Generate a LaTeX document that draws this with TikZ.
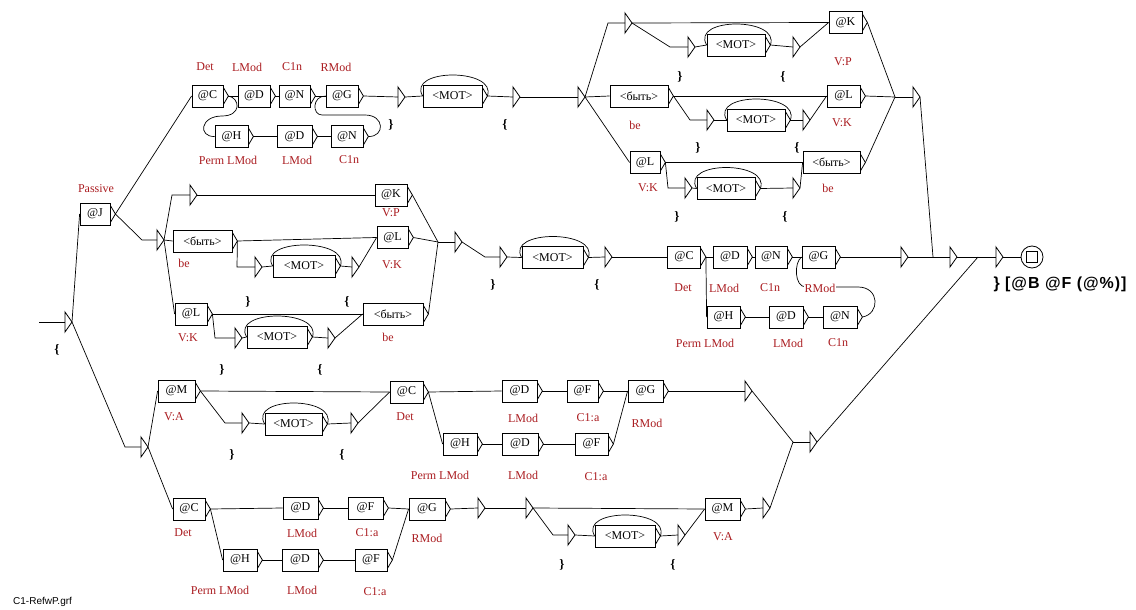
\documentclass[tikz,border=0pt]{standalone}
\usepackage{fontspec}
\setmainfont{Liberation Serif}
\newfontfamily\sansf{Liberation Sans}
\usetikzlibrary{calc}
\definecolor{lbl}{RGB}{170,28,32}
\tikzset{
  ubox/.style={draw, line width=0.8pt, minimum height=22pt, inner sep=1pt, font=\fontsize{12}{13}\selectfont},
  boxl/.style={line width=0.8pt},
  conn/.style={line width=0.7pt},
  lab/.style={text=lbl, font=\fontsize{12}{13}\selectfont, inner sep=0pt},
  brc/.style={font=\bfseries\fontsize{13}{14}\selectfont, inner sep=0pt},
}
\newcommand\UB[4]{\node[ubox,minimum width=#3] (#1) at (#2) {#4};
  \draw[boxl] ($(#1.north east)+(0,3)$) -- ($(#1.east)+(5,0)$) coordinate (#1o) -- ($(#1.south east)+(0,-3)$);}
\newcommand\TR[2]{\coordinate (#1) at (#2);
  \draw[boxl] ($(#1)+(0,-10)$) -- ($(#1)+(7,0)$) coordinate (#1r) -- ($(#1)+(0,10)$) -- cycle;}
\newcommand\LOOP[1]{\draw[conn] (#1o) .. controls ($(#1o)+(10,-28)$) and ($(#1.west)+(-16,-28)$) .. (#1.west);}
\begin{document}
\begin{tikzpicture}[x=1pt,y=-1pt]
\useasboundingbox (0,0) rectangle (1136,610);
% ---------- start
\coordinate (st) at (39,322);
\TR{S}{65,322}
\draw[conn] (st) -- (S);
\UB{J}{95,214}{30}{@J}
\draw[conn] (Sr) -- (J.west);
% ---------- top row
\UB{C1}{207.5,96}{31}{@C}
\UB{D1}{254,96}{32}{@D}
\UB{N1}{294.5,96}{31}{@N}
\UB{G1}{342,96}{32}{@G}
\UB{H1}{231.5,136.5}{33}{@H}
\UB{D2}{294.5,136.5}{35}{@D}
\UB{N2}{347,136.5}{32}{@N}
\draw[conn] (Jo) -- (C1.west);
\draw[conn] (C1o) -- (D1.west);
\draw[conn] (D1o) -- (N1.west);
\draw[conn] (N1o) -- (G1.west);
\draw[conn] (C1o) .. controls (240,98) and (242,116) .. (222,116) .. controls (200,116) and (198,137) .. (H1.west);
\draw[conn] (H1o) -- (D2.west);
\draw[conn] (D2o) -- (N2.west);
\draw[conn] (N2o) .. controls (385,137) and (385,115) .. (365,115) -- (322,115) .. controls (312,115) and (312,96) .. (G1.west);
\TR{ta}{398,97}
\UB{MOT1}{452.5,96}{59}{<MOT>}
\TR{tb}{513,97}
\TR{tc}{578,97}
\draw[conn] (G1o) -- (ta);
\draw[conn] (tar) -- (MOT1.west);
\LOOP{MOT1}
\draw[conn] (MOT1o) -- (tb);
\draw[conn] (tbr) -- (tc);
% ---------- upper right
\TR{td}{625,23}
\UB{K1}{845.5,22.5}{33}{@K}
\TR{te}{688,47}
\UB{MOT2}{736,45}{58}{<MOT>}
\TR{tf}{793,47}
\draw[conn] (tcr) -- (608,23) -- (td);
\draw[conn] (tdr) -- (K1.west);
\draw[conn] (tdr) -- (670,47) -- (te);
\draw[conn] (ter) -- (MOT2.west);
\LOOP{MOT2}
\draw[conn] (MOT2o) -- (tf);
\draw[conn] (tfr) -- (K1.west);
\UB{be1}{639,96}{58}{<быть>}
\UB{L1}{843.5,96}{33}{@L}
\TR{tg}{707,120}
\UB{MOT3}{756,120}{58}{<MOT>}
\TR{th}{803,120}
\draw[conn] (tcr) -- (be1.west);
\draw[conn] (be1o) -- (L1.west);
\draw[conn] (be1o) -- (690,120) -- (tg);
\draw[conn] (tgr) -- (MOT3.west);
\LOOP{MOT3}
\draw[conn] (MOT3o) -- (th);
\draw[conn] (thr) -- (L1.west);
\UB{L2}{645,162.5}{30}{@L}
\UB{be2}{831.5,162.5}{57}{<быть>}
\TR{ti}{685,188}
\UB{MOT4}{726,188.5}{58}{<MOT>}
\TR{tj}{793,188}
\draw[conn] (tcr) -- (L2.west);
\draw[conn] (L2o) -- (be2.west);
\draw[conn] (L2o) -- (668,188) -- (ti);
\draw[conn] (tir) -- (MOT4.west);
\LOOP{MOT4}
\draw[conn] (MOT4o) -- (tj);
\draw[conn] (tjr) -- (be2.west);
\coordinate (J1) at (895,97);
\coordinate (J2) at (933,257);
\TR{tk}{913,97}
\draw[conn] (K1o) -- (J1);
\draw[conn] (L1o) -- (J1);
\draw[conn] (be2o) -- (J1);
\draw[conn] (J1) -- (tk);
\draw[conn] (tkr) -- (J2);
% ---------- middle (passive)
\TR{t1}{157,240}
\TR{t2}{190,195}
\draw[conn] (Jo) -- (142,240) -- (t1);
\draw[conn] (t1r) -- (172,195) -- (t2);
\UB{K2}{391,195}{32}{@K}
\draw[conn] (t2r) -- (K2.west);
\UB{be3}{202.5,241}{59}{<быть>}
\UB{L3}{392.5,237.5}{31}{@L}
\draw[conn] (t1r) -- (be3.west);
\draw[conn] (be3o) -- (L3.west);
\TR{t3}{255,267}
\UB{MOT5}{304,266}{62}{<MOT>}
\TR{t4}{352,267}
\draw[conn] (be3o) -- (237,267) -- (t3);
\draw[conn] (t3r) -- (MOT5.west);
\LOOP{MOT5}
\draw[conn] (MOT5o) -- (t4);
\draw[conn] (t4r) -- (L3.west);
\UB{L4}{191,314}{32}{@L}
\UB{be4}{393,314}{60}{<быть>}
\draw[conn] (t1r) -- (L4.west);
\draw[conn] (L4o) -- (be4.west);
\TR{t5}{235,338}
\UB{MOT6}{277,337}{60}{<MOT>}
\TR{t6}{328,338}
\draw[conn] (L4o) -- (215,338) -- (t5);
\draw[conn] (t5r) -- (MOT6.west);
\LOOP{MOT6}
\draw[conn] (MOT6o) -- (t6);
\draw[conn] (t6r) -- (be4.west);
\coordinate (J3) at (438,242);
\draw[conn] (K2o) -- (J3);
\draw[conn] (L3o) -- (J3);
\draw[conn] (be4o) -- (J3);
\TR{t7}{455,242}
\TR{t8}{500,257}
\UB{MOT7}{552.5,257.5}{61}{<MOT>}
\TR{t9}{605,257}
\draw[conn] (J3) -- (t7);
\draw[conn] (t7r) -- (485,257) -- (t8);
\draw[conn] (t8r) -- (MOT7.west);
\LOOP{MOT7}
\draw[conn] (MOT7o) -- (t9);
\UB{C2}{684,257}{33}{@C}
\UB{D3}{730,257}{34}{@D}
\UB{N3}{771,257}{32}{@N}
\UB{G2}{818.5,257}{33}{@G}
\UB{H2}{723.5,317}{33}{@H}
\UB{D4}{786,317}{34}{@D}
\UB{N4}{840,317}{34}{@N}
\draw[conn] (t9r) -- (C2.west);
\draw[conn] (C2o) -- (D3.west);
\draw[conn] (D3o) -- (N3.west);
\draw[conn] (N3o) -- (G2.west);
\draw[conn] (C2o) -- (H2.west);
\draw[conn] (H2o) -- (D4.west);
\draw[conn] (D4o) -- (N4.west);
\draw[conn] (N4o) .. controls (880,314) and (880,287) .. (858,287) -- (806,287) .. controls (794,287) and (794,262) .. (G2.west);
\TR{t10}{901,257}
\TR{t11}{950,257}
\TR{t12}{996,257}
\coordinate (J4) at (978,257);
\draw[conn] (G2o) -- (t10);
\draw[conn] (t10r) -- (J2);
\draw[conn] (J2) -- (t11);
\draw[conn] (t11r) -- (J4);
\draw[conn] (J4) -- (t12);
\node[circle, draw, line width=0.8pt, minimum size=22pt, inner sep=0pt] (F) at (1032,257) {};
\node[draw, line width=0.8pt, minimum size=11pt, inner sep=0pt] (Fq) at (F) {};
\draw[conn] (t12r) -- (F.west);
% ---------- bottom
\TR{t13}{141,447}
\draw[conn] (Sr) -- (125,447) -- (t13);
\UB{M1}{176.5,391}{37}{@M}
\UB{C3}{189,509}{32}{@C}
\draw[conn] (t13r) -- (M1.west);
\draw[conn] (t13r) -- (C3.west);
\UB{C4}{406.5,392}{33}{@C}
\draw[conn] (M1o) -- (C4.west);
\TR{t14}{242,423}
\UB{MOT8}{293.5,424}{57}{<MOT>}
\TR{t15}{351,423}
\draw[conn] (M1o) -- (225,423) -- (t14);
\draw[conn] (t14r) -- (MOT8.west);
\LOOP{MOT8}
\draw[conn] (MOT8o) -- (t15);
\draw[conn] (t15r) -- (C4.west);
\UB{D5}{519.5,391}{35}{@D}
\UB{F1}{582.5,391}{31}{@F}
\UB{G3}{645.5,391}{35}{@G}
\UB{H3}{460,444}{34}{@H}
\UB{D6}{520,444}{36}{@D}
\UB{F2}{591.5,444}{33}{@F}
\draw[conn] (C4o) -- (D5.west);
\draw[conn] (D5o) -- (F1.west);
\draw[conn] (F1o) -- (G3.west);
\draw[conn] (C4o) -- (H3.west);
\draw[conn] (H3o) -- (D6.west);
\draw[conn] (D6o) -- (F2.west);
\draw[conn] (F2o) -- (G3.west);
\coordinate (J5) at (793,442);
\TR{t16}{745,391}
\TR{t17}{810,442}
\draw[conn] (G3o) -- (t16);
\draw[conn] (t16r) -- (J5);
\draw[conn] (J5) -- (t17);
\draw[conn] (t17r) -- (J4);
\UB{D7}{300.5,508}{35}{@D}
\UB{F3}{365.5,508}{35}{@F}
\UB{G4}{427,509}{36}{@G}
\UB{H4}{240,560}{34}{@H}
\UB{D8}{300,560}{36}{@D}
\UB{F4}{371,560}{32}{@F}
\draw[conn] (C3o) -- (D7.west);
\draw[conn] (D7o) -- (F3.west);
\draw[conn] (F3o) -- (G4.west);
\draw[conn] (C3o) -- (H4.west);
\draw[conn] (H4o) -- (D8.west);
\draw[conn] (D8o) -- (F4.west);
\draw[conn] (F4o) -- (G4.west);
\TR{t18}{478,508}
\TR{t19}{526,508}
\UB{M2}{722.5,509}{35}{@M}
\draw[conn] (G4o) -- (t18);
\draw[conn] (t18r) -- (t19);
\draw[conn] (t19r) -- (M2.west);
\TR{t20}{568,535}
\UB{MOT9}{625,536}{60}{<MOT>}
\TR{t21}{678,535}
\draw[conn] (t19r) -- (553,535) -- (t20);
\draw[conn] (t20r) -- (MOT9.west);
\LOOP{MOT9}
\draw[conn] (MOT9o) -- (t21);
\draw[conn] (t21r) -- (M2.west);
\TR{t22}{763,508}
\draw[conn] (M2o) -- (t22);
\draw[conn] (t22r) -- (J5);
% ---------- red labels
\node[lab] (lJ) at (96,189) {Passive};
\node[lab] (l1) at (205,67) {Det};
\node[lab] (l2) at (247,67) {LMod};
\node[lab] (l3) at (292,67) {C1n};
\node[lab] (l4) at (336,67) {RMod};
\node[lab] (l5) at (228,160) {Perm LMod};
\node[lab] (l6) at (297,160) {LMod};
\node[lab] (l7) at (349,160) {C1n};
\node[lab] (l8) at (843,62) {V:P};
\node[lab] (l9) at (635,125) {be};
\node[lab] (l10) at (842,123) {V:K};
\node[lab] (l11) at (648,188) {V:K};
\node[lab] (l12) at (828,188) {be};
\node[lab] (l13) at (391,213) {V:P};
\node[lab] (l14) at (184,263) {be};
\node[lab] (l15) at (392,265) {V:K};
\node[lab] (l16) at (188,338) {V:K};
\node[lab] (l17) at (388,337) {be};
\node[lab] (l18) at (683,288) {Det};
\node[lab] (l19) at (724,288) {LMod};
\node[lab] (l20) at (770,288) {C1n};
\node[lab, fill=white, inner sep=1pt] (l21) at (820,288) {RMod};
\node[lab] (l22) at (705,343) {Perm LMod};
\node[lab] (l23) at (788,343) {LMod};
\node[lab] (l24) at (838,343) {C1n};
\node[lab] (l25) at (174,417) {V:A};
\node[lab] (l26) at (405,417) {Det};
\node[lab] (l27) at (523,418) {LMod};
\node[lab] (l28) at (588,418) {C1:a};
\node[lab] (l29) at (647,423) {RMod};
\node[lab] (l30) at (440,475) {Perm LMod};
\node[lab] (l31) at (523,475) {LMod};
\node[lab] (l32) at (596,477) {C1:a};
\node[lab] (l33) at (183,533) {Det};
\node[lab] (l34) at (302,533) {LMod};
\node[lab] (l35) at (367,533) {C1:a};
\node[lab] (l36) at (427,538) {RMod};
\node[lab] (l37) at (220,590) {Perm LMod};
\node[lab] (l38) at (302,590) {LMod};
\node[lab] (l39) at (375,592) {C1:a};
\node[lab] (l40) at (723,537) {V:A};
% ---------- braces
\node[brc] (b0) at (57,350) {\{};
\node[brc] (b1) at (391,125) {\}};
\node[brc] (b2) at (505,125) {\{};
\node[brc] (b3) at (680,77) {\}};
\node[brc] (b4) at (783,77) {\{};
\node[brc] (b5) at (698,148) {\}};
\node[brc] (b6) at (797,148) {\{};
\node[brc] (b7) at (677,217) {\}};
\node[brc] (b8) at (785,217) {\{};
\node[brc] (b9) at (248,302) {\}};
\node[brc] (b10) at (347,302) {\{};
\node[brc] (b11) at (222,370) {\}};
\node[brc] (b12) at (320,370) {\{};
\node[brc] (b13) at (493,285) {\}};
\node[brc] (b14) at (597,285) {\{};
\node[brc] (b15) at (232,455) {\}};
\node[brc] (b16) at (342,455) {\{};
\node[brc] (b17) at (562,565) {\}};
\node[brc] (b18) at (673,565) {\{};
% ---------- final output and footer
\node[font=\sansf\bfseries\fontsize{16}{18}\selectfont, inner sep=0pt] (fin) at (1060,284) {\addfontfeature{LetterSpace=6}\} [@B @F (@\%)]};
\node[font=\sansf\fontsize{10}{11}\selectfont, anchor=west, inner sep=0pt] (foot) at (13,602) {C1-RefwP.grf};
\end{tikzpicture}
\end{document}
